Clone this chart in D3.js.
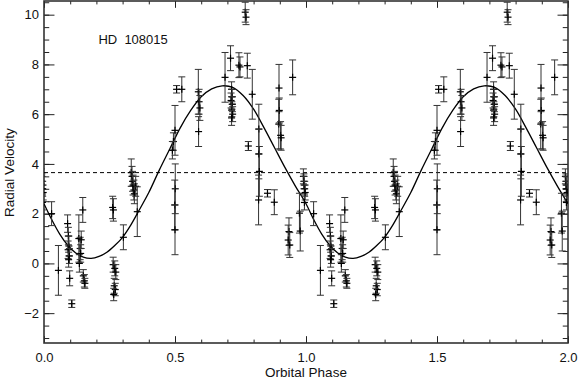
<!DOCTYPE html>
<html>
<head>
<meta charset="utf-8">
<script src="https://cdn.jsdelivr.net/npm/d3@7"></script>
<style>
  body { margin: 0; background: #fff; }
  text { font-family: 'Liberation Sans', Arial, sans-serif; fill: #111; }
</style>
</head>
<body>
<svg id="chart" width="578" height="379"></svg>
<script>
// phase-folded radial velocities, one cycle, drawn twice
var phases = [0.029, 0.055, 0.090, 0.093, 0.095, 0.092, 0.097, 0.094, 0.098, 0.106,
  0.133, 0.138, 0.135, 0.142, 0.140, 0.148, 0.150, 0.154, 0.156,
  0.262, 0.265, 0.264, 0.270, 0.274, 0.268, 0.272, 0.266, 0.303,
  0.333, 0.336, 0.338, 0.340, 0.343, 0.345, 0.350, 0.356,
  0.494, 0.490, 0.500, 0.501, 0.499, 0.500, 0.506, 0.526,
  0.589, 0.592, 0.595, 0.590,
  0.691, 0.712, 0.716, 0.718, 0.714, 0.719, 0.717, 0.720, 0.716,
  0.744, 0.748, 0.768, 0.771, 0.776, 0.780, 0.795,
  0.820, 0.820, 0.822, 0.819, 0.853, 0.879,
  0.897, 0.898, 0.896, 0.903, 0.905, 0.949, 0.935, 0.932, 0.938, 0.975, 0.978,
  0.990, 0.992, 0.993, 0.995, 0.997, 0.994]
var velocities = [2.00, -0.28, 1.60, 1.10, 0.70, 0.55, 0.30, 0.15, -0.60, -1.62,
  1.00, 0.60, 0.00, 0.95, 0.40, 2.15, -0.50, -0.70, -0.80,
  2.25, 2.15, -0.05, -0.20, -0.35, -0.90, -1.05, -1.25, 1.05,
  3.65, 3.50, 3.30, 3.15, 2.95, 2.80, 3.10, 2.08,
  4.90, 4.55, 5.35, 3.00, 2.35, 1.35, 7.00, 7.00,
  6.90, 6.50, 6.25, 5.30,
  7.48, 8.25, 7.00, 6.70, 6.55, 6.40, 6.20, 6.00, 5.85,
  7.97, 7.90, 10.10, 9.90, 7.95, 4.72, 6.80,
  5.40, 4.40, 3.70, 2.55, 2.82, 2.46,
  7.05, 6.15, 5.60, 5.15, 5.05, 7.48, 1.28, 0.94, 0.74, 2.02, 1.30,
  3.50, 3.30, 3.15, 3.00, 2.85, 2.45]
var errors = [0.48, 1.00, 0.35, 0.35, 0.40, 0.35, 0.30, 0.30, 0.30, 0.15,
  0.95, 0.45, 0.35, 0.35, 0.35, 0.50, 0.25, 0.25, 0.20,
  0.45, 0.45, 0.30, 0.30, 0.30, 0.30, 0.25, 0.25, 0.50,
  0.55, 0.40, 0.40, 0.40, 0.40, 0.40, 0.40, 1.00,
  0.35, 0.35, 1.00, 1.00, 1.00, 1.00, 0.15, 0.50,
  0.90, 0.50, 0.50, 0.60,
  1.00, 0.50, 0.30, 0.30, 0.30, 0.30, 0.30, 0.30, 0.30,
  0.50, 0.40, 0.40, 0.30, 0.50, 0.18, 1.00,
  1.00, 1.00, 1.00, 1.00, 0.15, 0.50,
  0.95, 0.50, 1.00, 0.55, 0.50, 0.70, 0.55, 0.60, 0.50, 0.80, 0.80,
  0.30, 0.30, 0.35, 0.30, 0.30, 0.30]

// orbit fit, one cycle
var fitPhase = [0.00, 0.03, 0.06, 0.09, 0.12, 0.15, 0.18, 0.21, 0.24, 0.27, 0.30, 0.33, 0.36,
  0.40, 0.44, 0.48, 0.52, 0.56, 0.60, 0.64, 0.68, 0.72, 0.76, 0.80, 0.84, 0.88, 0.92, 0.96]
var fitVelocity = [2.40, 1.75, 1.18, 0.74, 0.43, 0.25, 0.20, 0.28, 0.45, 0.72, 1.05, 1.52, 2.08,
  2.85, 3.75, 4.60, 5.45, 6.15, 6.70, 7.02, 7.14, 7.08, 6.75, 6.20, 5.45, 4.65, 3.85, 3.10]

var meanVelocity = 3.65
var xTicks = [0, 0.5, 1, 1.5, 2]
var yTicks = [-2, 0, 2, 4, 6, 8, 10]
var starName = 'HD  108015'

var svg = d3.select('#chart')
var margin = {top: 1, right: 10, bottom: 36, left: 44},
  width = 578 - margin.left - margin.right,
  height = 379 - margin.top - margin.bottom

var g = svg.append('g').attr('transform', 'translate(' + margin.left + ',' + margin.top + ')')

var x = d3.scaleLinear().domain([0, 2]).range([0, width])
var y = d3.scaleLinear().domain([-3.2, 10.55]).range([height, 0])

g.append('clipPath').attr('id', 'clip')
  .append('rect').attr('width', width).attr('height', height)

var xMinor = d3.range(0, 2.0001, 0.1)
var yMinor = d3.range(-3, 10.5001, 0.5)
var xLen = height * 0.02, yLen = width * 0.02

function styleAxis(sel) {
  sel.select('.domain').remove()
  sel.selectAll('line').attr('stroke', '#222').attr('stroke-width', 1)
  sel.selectAll('text').style('font-size', '13px').attr('fill', '#111')
    .style('font-family', "'Liberation Sans', Arial, sans-serif")
}

// bottom / top
g.append('g').attr('transform', 'translate(0,' + height + ')')
  .call(d3.axisBottom(x).tickValues(xTicks).tickFormat(d3.format('.1f')).tickSize(-xLen).tickSizeOuter(0).tickPadding(10))
  .call(styleAxis)
g.append('g').attr('transform', 'translate(0,' + height + ')')
  .call(d3.axisBottom(x).tickValues(xMinor).tickFormat('').tickSize(-xLen / 2).tickSizeOuter(0))
  .call(styleAxis)
g.append('g')
  .call(d3.axisTop(x).tickValues(xTicks).tickFormat('').tickSize(-xLen).tickSizeOuter(0))
  .call(styleAxis)
g.append('g')
  .call(d3.axisTop(x).tickValues(xMinor).tickFormat('').tickSize(-xLen / 2).tickSizeOuter(0))
  .call(styleAxis)

// left / right
g.append('g')
  .call(d3.axisLeft(y).tickValues(yTicks).tickFormat(d3.format('d')).tickSize(-yLen).tickSizeOuter(0).tickPadding(5))
  .call(styleAxis)
g.append('g')
  .call(d3.axisLeft(y).tickValues(yMinor).tickFormat('').tickSize(-yLen / 2).tickSizeOuter(0))
  .call(styleAxis)
g.append('g').attr('transform', 'translate(' + width + ',0)')
  .call(d3.axisRight(y).tickValues(yTicks).tickFormat('').tickSize(-yLen).tickSizeOuter(0))
  .call(styleAxis)
g.append('g').attr('transform', 'translate(' + width + ',0)')
  .call(d3.axisRight(y).tickValues(yMinor).tickFormat('').tickSize(-yLen / 2).tickSizeOuter(0))
  .call(styleAxis)

g.append('rect')
  .attr('width', width).attr('height', height)
  .attr('fill', 'none').attr('stroke', '#333').attr('stroke-width', 1.6)

var plot = g.append('g').attr('clip-path', 'url(#clip)')

// mean velocity
plot.append('line')
  .attr('x1', 0).attr('x2', width)
  .attr('y1', y(meanVelocity)).attr('y2', y(meanVelocity))
  .attr('stroke', '#000').attr('stroke-width', 1)
  .attr('stroke-dasharray', '4,3')

// fitted curve over both cycles
var fit = []
;[0, 1].forEach(function(k) {
  fitPhase.forEach(function(p, i) { fit.push([p + k, fitVelocity[i]]) })
})
fit.push([2, fitVelocity[0]])

plot.append('path')
  .datum(fit)
  .attr('fill', 'none')
  .attr('stroke', '#000')
  .attr('stroke-width', 1.3)
  .attr('d', d3.line()
    .x(function(d) { return x(d[0]) })
    .y(function(d) { return y(d[1]) })
    .curve(d3.curveCatmullRom))

var pts = []
;[-1, 0, 1, 2].forEach(function(k) {
  phases.forEach(function(p, i) {
    pts.push({phase: p + k, rv: velocities[i], err: errors[i]})
  })
})

var cap = 3.5, arm = 3.5
var pt = plot.selectAll('.pt')
  .data(pts)
  .enter().append('g')
  .attr('class', 'pt')
  .attr('transform', function(d) { return 'translate(' + x(d.phase) + ',0)' })

pt.append('line')
  .attr('x1', 0).attr('x2', 0)
  .attr('y1', function(d) { return y(d.rv + d.err) })
  .attr('y2', function(d) { return y(d.rv - d.err) })
  .attr('stroke', '#333').attr('stroke-width', 1)
pt.append('line')
  .attr('x1', -cap).attr('x2', cap)
  .attr('y1', function(d) { return y(d.rv + d.err) })
  .attr('y2', function(d) { return y(d.rv + d.err) })
  .attr('stroke', '#333').attr('stroke-width', 1)
pt.append('line')
  .attr('x1', -cap).attr('x2', cap)
  .attr('y1', function(d) { return y(d.rv - d.err) })
  .attr('y2', function(d) { return y(d.rv - d.err) })
  .attr('stroke', '#333').attr('stroke-width', 1)
pt.append('line')
  .attr('x1', -arm).attr('x2', arm)
  .attr('y1', function(d) { return y(d.rv) })
  .attr('y2', function(d) { return y(d.rv) })
  .attr('stroke', '#000').attr('stroke-width', 1.2)
pt.append('line')
  .attr('x1', 0).attr('x2', 0)
  .attr('y1', function(d) { return y(d.rv) - arm })
  .attr('y2', function(d) { return y(d.rv) + arm })
  .attr('stroke', '#000').attr('stroke-width', 1.2)

g.append('text')
  .attr('x', x(0.34)).attr('y', y(8.82))
  .attr('text-anchor', 'middle')
  .style('font-size', '13px')
  .style('white-space', 'pre')
  .attr('xml:space', 'preserve')
  .text(starName)

svg.append('text')
  .attr('x', margin.left + width / 2).attr('y', 377)
  .attr('text-anchor', 'middle')
  .style('font-size', '13.5px')
  .text('Orbital Phase')

svg.append('text')
  .attr('transform', 'translate(14,' + (margin.top + y(3.65)) + ') rotate(-90)')
  .attr('text-anchor', 'middle')
  .style('font-size', '13.5px')
  .text('Radial Velocity')
</script>
</body>
</html>
